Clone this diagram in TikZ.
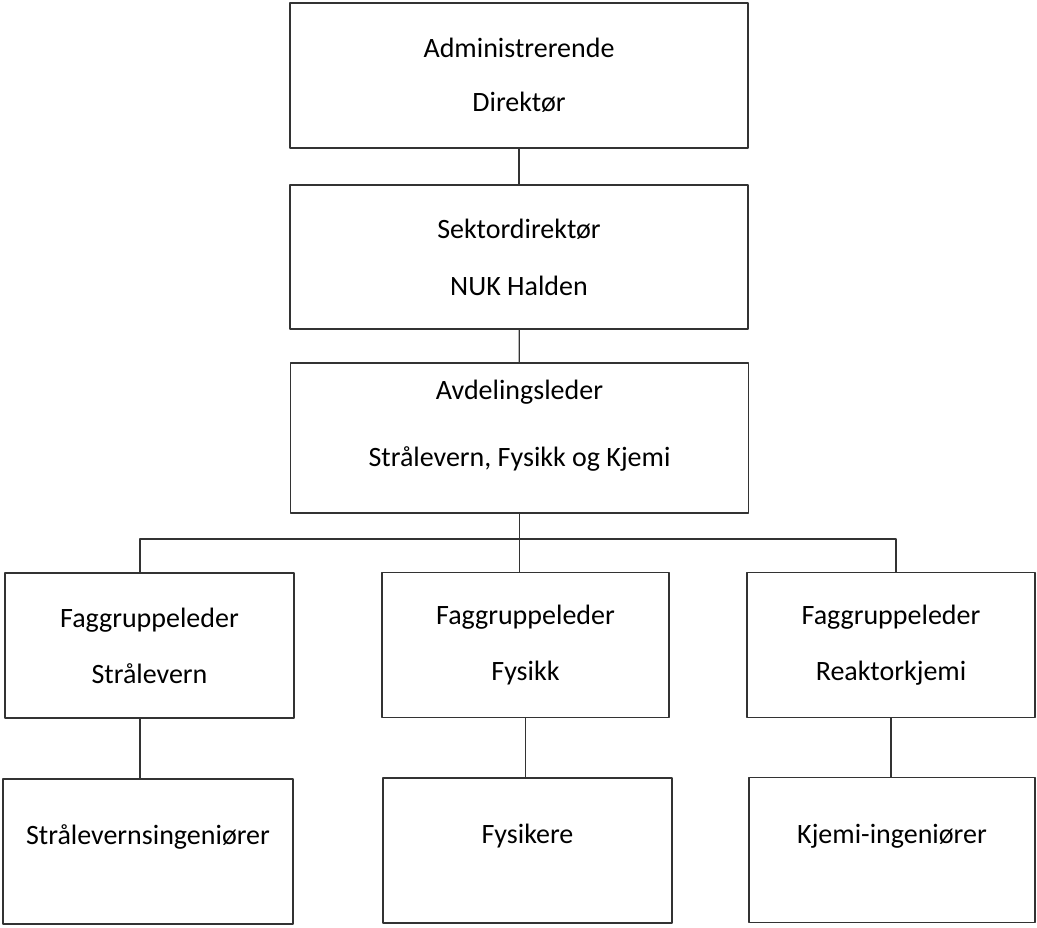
\documentclass[tikz,border=0pt]{standalone}
\usepackage{fontspec}
\setmainfont{Carlito}
\begin{document}
\begin{tikzpicture}[line cap=round,line join=round,x=1pt,y=-1pt,
    orgbox/.style={draw=black!80,line width=1.6pt,align=center,inner sep=0pt,
      font=\fontsize{28}{34}\selectfont,text=black},
    wide/.style={orgbox,minimum width=458pt},
    narrow/.style={orgbox,minimum width=288pt,minimum height=145pt},
    link/.style={draw=black!80,line width=1.3pt}]%organisasjonskart
  \useasboundingbox (0,0) rectangle (1037,928);
  % ledelse
  \node[wide,minimum height=145pt] (adm) at (519,75.5) {Administrerende\\[20pt]Direktør};
  \node[wide,minimum height=144pt] (sek) at (519,257) {Sektordirektør\\[23pt]NUK Halden};
  \node[wide,minimum height=150pt,text depth=30pt] (avd) at (519.5,438) {Avdelingsleder\\[33pt]Strålevern, Fysikk og Kjemi};
  % faggrupper
  \node[narrow,minimum width=289pt] (fgS) at (149.5,645.5) {Faggruppeleder\\[22pt]Strålevern};
  \node[narrow,minimum width=287pt] (fgF) at (525.5,645) {Faggruppeleder\\[22pt]Fysikk};
  \node[narrow] (fgR) at (891,645) {Faggruppeleder\\[22pt]Reaktorkjemi};
  \node[narrow,minimum width=290pt,text depth=33pt] (sing) at (148,851.5) {Strålevernsingeniører};
  \node[narrow,minimum width=289pt,text depth=33pt] (fys) at (527.5,850.5) {Fysikere};
  \node[narrow,minimum width=286pt,text depth=33pt] (kje) at (892,850) {Kjemi-ingeniører};
  \coordinate (busL) at (140,539);
  \coordinate (busR) at (896,539);
  \draw[link] (adm) -- (sek);
  \draw[link] (sek) -- (avd);
  \draw[link] (avd.south) -- (avd.south |- fgF.north);
  \draw[link] (busL |- fgS.north) -- (busL) -- (busR) -- (busR |- fgR.north);
  \draw[link] (busL |- fgS.south) -- (busL |- sing.north);
  \draw[link] (fgF.south) -- (fgF.south |- fys.north);
  \draw[link] (fgR.south) -- (fgR.south |- kje.north);
\end{tikzpicture}
\end{document}
